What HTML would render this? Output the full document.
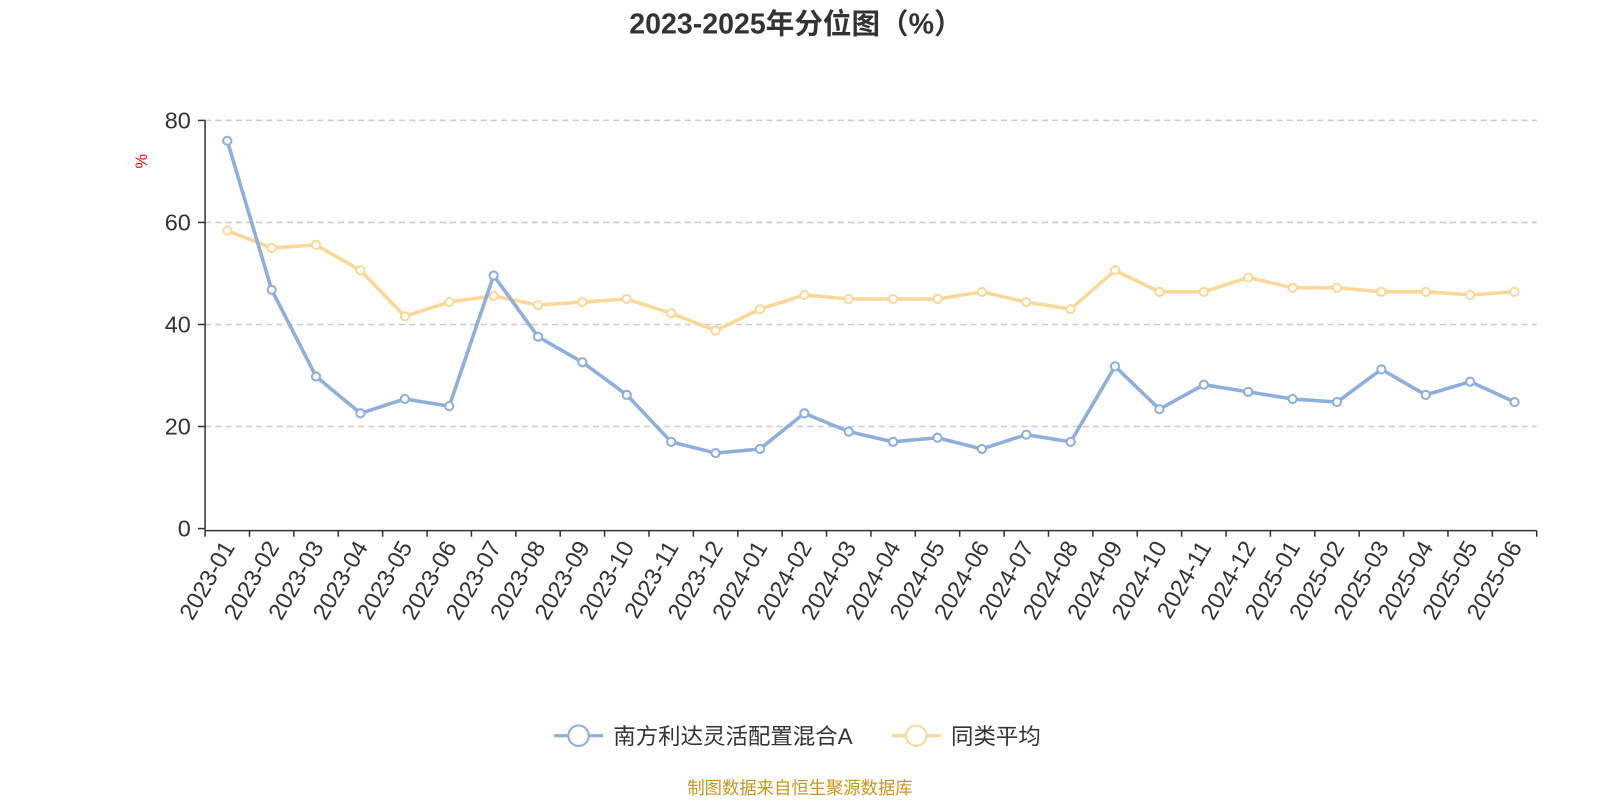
<!DOCTYPE html>
<html><head><meta charset="utf-8"><style>
body{margin:0;background:#fff;font-family:"Liberation Sans","Noto Sans CJK SC",sans-serif;}
svg text{font-family:"Liberation Sans","Noto Sans CJK SC",sans-serif;}
</style></head><body>
<svg id="chart" width="1600" height="800" viewBox="0 0 1568 784" xmlns="http://www.w3.org/2000/svg">
<text x="780" y="33" text-anchor="middle" font-size="28" font-weight="bold" fill="#333">2023-2025年分位图（%）</text>
<text x="144" y="158" font-size="16" fill="red" transform="rotate(-90 144 158)" text-anchor="middle">%</text>
<g id="grid"></g><g id="axes"></g><g id="series"></g>
<g>
<g><line x1="543" y1="721" x2="591" y2="721" stroke="#8eaedb" stroke-width="3"/><circle cx="567" cy="721" r="10" fill="#fff" stroke="#8eaedb" stroke-width="2"/><text x="601" y="729" font-size="22" fill="#333">南方利达灵活配置混合A</text></g>
<g><line x1="874" y1="721" x2="922" y2="721" stroke="#fbd898" stroke-width="3"/><circle cx="898" cy="721" r="10" fill="#fff" stroke="#fbd898" stroke-width="2"/><text x="932" y="729" font-size="22" fill="#333">同类平均</text></g>
</g>
<text x="784" y="778" text-anchor="middle" font-size="17" fill="#c8961e">制图数据来自恒生聚源数据库</text>
</svg>
<script>
const categories=["2023-01","2023-02","2023-03","2023-04","2023-05","2023-06","2023-07","2023-08","2023-09","2023-10","2023-11","2023-12","2024-01","2024-02","2024-03","2024-04","2024-05","2024-06","2024-07","2024-08","2024-09","2024-10","2024-11","2024-12","2025-01","2025-02","2025-03","2025-04","2025-05","2025-06"];
const fundValues=[76,46.8,29.8,22.6,25.4,24,49.6,37.6,32.6,26.2,17,14.8,15.6,22.6,19,17,17.8,15.6,18.4,17,31.8,23.4,28.2,26.8,25.4,24.8,31.2,26.2,28.8,24.8];
const avgValues=[58.4,55,55.6,50.6,41.6,44.4,45.6,43.8,44.4,45,42.2,38.8,43,45.8,45,45,45,46.4,44.4,43,50.6,46.4,46.4,49.2,47.2,47.2,46.4,46.4,45.8,46.4];
const yTicks=[0,20,40,60,80];
const NS="http://www.w3.org/2000/svg";
const x0=201,x1=1506,yBase=518,yTop=118,yMax=80;
const band=(x1-x0)/categories.length;
const xPos=i=>x0+band*(i+0.5);
const yPos=v=>yBase-(v/yMax)*(yBase-yTop);
function mk(tag,attrs,parent){const e=document.createElementNS(NS,tag);for(const k in attrs)e.setAttribute(k,attrs[k]);parent.appendChild(e);return e;}
const grid=document.getElementById('grid'),axes=document.getElementById('axes'),series=document.getElementById('series');
yTicks.forEach(t=>{
  const y=yPos(t);
  if(t>0){const g=mk('line',{x1:x0,x2:x1,y1:y,y2:y,stroke:'#ccc','stroke-dasharray':'6,4','stroke-width':1.5},grid);
  
  }
  mk('line',{x1:x0-7,x2:x0,y1:y,y2:y,stroke:'#333','stroke-width':1.5},axes);
  const tx=mk('text',{x:x0-14,y:y+8,'text-anchor':'end','font-size':23,fill:'#333'},axes);
  tx.textContent=t;
  
  
});
const ya=mk('line',{x1:x0,x2:x0,y1:yTop,y2:yBase+2,stroke:'#333','stroke-width':1.5},axes);


const xa=mk('line',{x1:x0,x2:x1,y1:yBase+2,y2:yBase+2,stroke:'#333','stroke-width':1.5},axes);


for(let i=0;i<=categories.length;i++){const x=x0+band*i;mk('line',{x1:x,x2:x,y1:yBase+2,y2:yBase+8,stroke:'#333','stroke-width':1.5},axes);}
categories.forEach((c,i)=>{
  const x=xPos(i),y=yBase+18;
  const tx=mk('text',{x:x+8,y:y,'text-anchor':'end','font-size':23,fill:'#333',transform:`rotate(-60 ${x+8} ${y})`},axes);
  tx.textContent=c;
  
  
});
function draw(vals,color,name){
  const g=mk('g',{},series);
  
  
  const pts=vals.map((v,i)=>xPos(i)+','+yPos(v)).join(' ');
  const pl=mk('polyline',{points:pts,fill:'none',stroke:color,'stroke-width':3.5,'stroke-linejoin':'round'},g);
  
  
  vals.forEach((v,i)=>{
    const c=mk('circle',{cx:xPos(i),cy:yPos(v),r:4,fill:'#fff',stroke:color,'stroke-width':2},g);
    
    
  });
}
draw(avgValues,'#fbd898','average-series');
draw(fundValues,'#8eaedb','fund-series');
</script>
</body></html>
